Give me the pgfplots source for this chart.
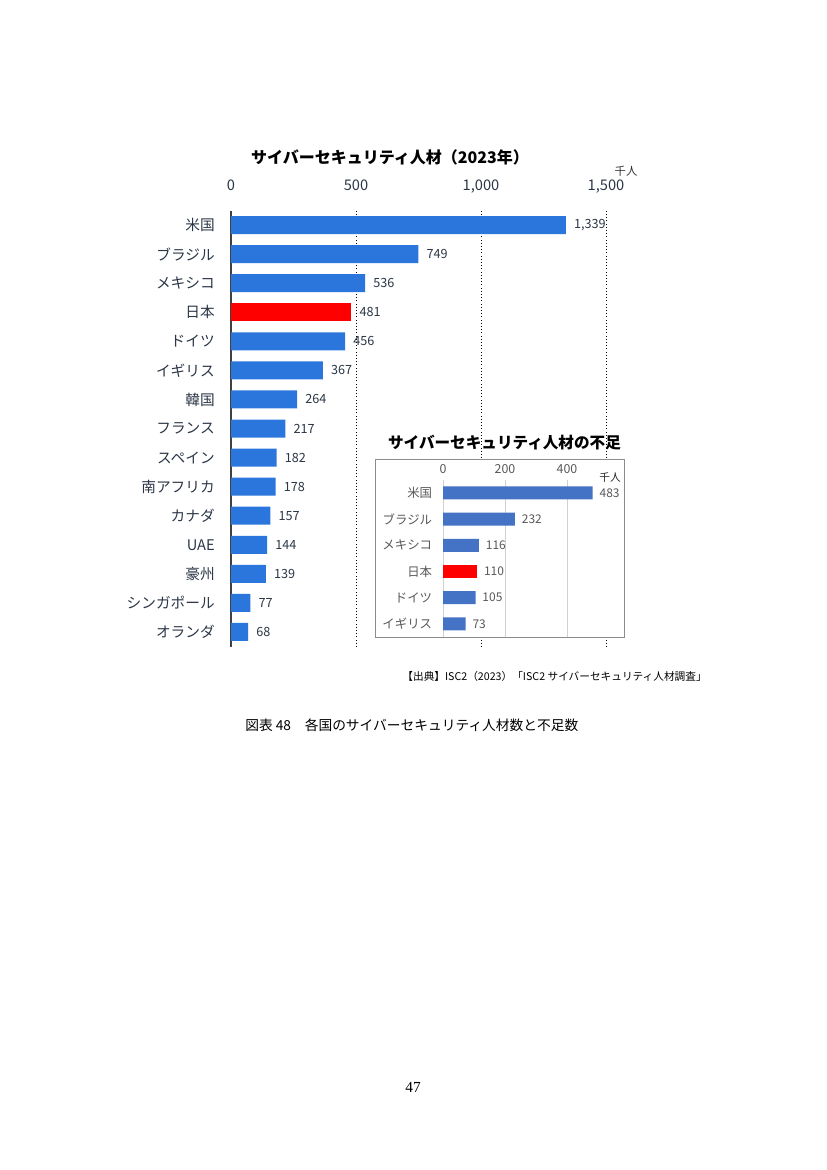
\documentclass[border=0pt]{standalone}
\usepackage{fontspec}
\setmainfont{Noto Sans CJK JP}
\newfontfamily\serif{Liberation Serif}
\usepackage{pgfplots}
\pgfplotsset{compat=1.18}
\definecolor{mainblue}{HTML}{2A76DC}
\definecolor{insetblue}{HTML}{4472C4}
\definecolor{navytext}{HTML}{2B3646}
\definecolor{graytext}{HTML}{595959}

\begin{document}
\begin{tikzpicture}
\begin{scope}[x=0.75pt,y=-0.75pt]
  \useasboundingbox (0,0) rectangle (827,1170);
  \coordinate (mainSW) at (231,646.5);
  \coordinate (insSW) at (443,637);
\end{scope}

% main chart
\begin{axis}[
    at={(mainSW)}, anchor=south west,
    scale only axis,
    width=281.25pt, height=327pt,
    xbar, bar width=13.5pt, bar shift=0pt,
    xmin=0, xmax=1500,
    ymin=-0.5, ymax=14.5,
    enlargelimits=false,
    clip=false,
    axis x line*=top,
    axis y line*=left,
    x axis line style={draw=none},
    y axis line style={draw=black!75, line width=1.1pt, -},
    xtick={0,500,1000,1500},
    ytick={0,...,14},
    yticklabels={オランダ,シンガポール,豪州,UAE,カナダ,南アフリカ,スペイン,フランス,韓国,イギリス,ドイツ,日本,メキシコ,ブラジル,米国},
    major tick length=0pt,
    xmajorgrids=true,
    grid style={black, dotted, line width=0.7pt},
    /pgf/number format/assume math mode=true,
    xticklabel style={anchor=base, inner sep=0pt, yshift=15pt, font=\fontsize{11}{13}\selectfont, text=navytext},
    yticklabel style={anchor=east, inner sep=0pt, xshift=-12pt, font=\fontsize{11}{13}\selectfont, text=navytext},
    nodes near coords,
    nodes near coords style={anchor=west, inner sep=0pt, xshift=6pt, font=\fontsize{9.5}{11}\selectfont, text=navytext},
]
\addplot[fill=mainblue, draw=none] coordinates {
    (1339,14) (749,13) (536,12) (456,10) (367,9) (264,8) (217,7)
    (182,6) (178,5) (157,4) (144,3) (139,2) (77,1) (68,0)
};
\addplot[fill=red, draw=none] coordinates {(481,11)};
\end{axis}

\begin{scope}[x=0.75pt,y=-0.75pt]
  \node[font=\bfseries\fontsize{12}{14}\selectfont] at (390,157) {サイバーセキュリティ人材（2023年）};
  \node[font=\fontsize{8.5}{10}\selectfont, text=black!80] at (626,171) {千人};
  \draw[draw=black!45, fill=white, line width=0.6pt] (375,459) rectangle (624,637);
  \node[font=\bfseries\fontsize{11.7}{14}\selectfont] at (504.5,443) {サイバーセキュリティ人材の不足};
  \node[font=\fontsize{8}{10}\selectfont, text=black!85] at (610,478) {千人};
\end{scope}

% inset chart
\begin{axis}[
    at={(insSW)}, anchor=south west,
    scale only axis,
    width=116.25pt, height=117.9pt,
    xbar, bar width=9.75pt, bar shift=0pt,
    xmin=0, xmax=500,
    ymin=-0.5, ymax=5.5,
    enlargelimits=false,
    clip=false,
    axis x line*=top,
    axis y line*=left,
    axis line style={draw=none},
    xtick={0,200,400},
    ytick={0,...,5},
    yticklabels={イギリス,ドイツ,日本,メキシコ,ブラジル,米国},
    major tick length=0pt,
    xmajorgrids=true,
    grid style={black!18, line width=0.6pt},
    /pgf/number format/assume math mode=true,
    xticklabel style={anchor=base, inner sep=0pt, yshift=4.5pt, font=\fontsize{9.3}{11}\selectfont, text=graytext},
    yticklabel style={anchor=east, inner sep=0pt, xshift=-8pt, font=\fontsize{9.3}{11}\selectfont, text=graytext},
    nodes near coords,
    nodes near coords style={anchor=west, inner sep=0pt, xshift=5pt, font=\fontsize{9}{11}\selectfont, text=graytext},
]
\addplot[fill=insetblue, draw=none] coordinates {
    (483,5) (232,4) (116,3) (105,1) (73,0)
};
\addplot[fill=red, draw=none] coordinates {(110,2)};
\end{axis}

\begin{scope}[x=0.75pt,y=-0.75pt]
  \node[anchor=east, inner sep=0pt, font=\fontsize{8}{10}\selectfont] at (707,676) {【出典】ISC2（2023）「ISC2 サイバーセキュリティ人材調査」};
  \node[anchor=west, inner sep=0pt, font=\fontsize{10.3}{12}\selectfont] at (245,725) {図表 48　各国のサイバーセキュリティ人材数と不足数};
  \node[font=\serif\fontsize{11.5}{13}\selectfont] at (413,1087) {47};
\end{scope}
\end{tikzpicture}
\end{document}
